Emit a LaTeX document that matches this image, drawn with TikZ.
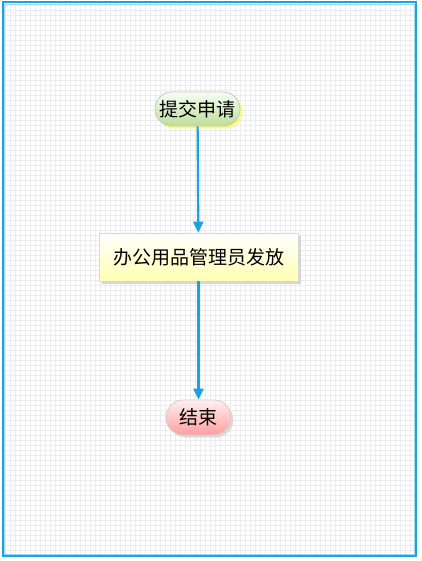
\documentclass[tikz,border=0pt]{standalone}
\usepackage{fontspec}
\newfontfamily\cjk{Noto Sans CJK SC}
\usetikzlibrary{shadows,arrows.meta}
\definecolor{frameblue}{HTML}{1FA3E0}
\definecolor{framelight}{HTML}{9ED8F2}
\definecolor{linkblue}{HTML}{1BA1E2}
\definecolor{gridgray}{HTML}{ECECF0}
\definecolor{startlow}{HTML}{BEDD9A}
\tikzset{
  basebox/.style={draw=#1, line width=0.8pt, font=\cjk\fontsize{19}{22}\selectfont, text=black, inner sep=0pt},
  startbox/.style={basebox=green!10!gray!45, minimum width=85pt, minimum height=34pt, rounded corners=17pt,
    top color=green!4!white, bottom color=startlow,
    drop shadow={shadow xshift=2.5pt, shadow yshift=-2.5pt, fill=yellow!55!white, opacity=0.9}},
  taskbox/.style={basebox=gray!30, minimum width=199pt, minimum height=48pt,
    top color=white, bottom color=yellow!30!white,
    drop shadow={shadow xshift=2.5pt, shadow yshift=-2.5pt, fill=gray!35, opacity=0.9}},
  endbox/.style={basebox=red!15!gray!35, minimum width=65pt, minimum height=35pt, rounded corners=17.5pt,
    top color=red!6!white, bottom color=red!38!white,
    drop shadow={shadow xshift=2.5pt, shadow yshift=-2.5pt, fill=gray!30, opacity=0.9}},
  link/.style={draw=linkblue, line width=2.2pt, -{Triangle[length=11pt,width=10pt]}},
}
\begin{document}
\begin{tikzpicture}[x=1pt,y=-1pt]
  \useasboundingbox (0,0) rectangle (421,561);
  \fill[white] (0,0) rectangle (421,561);
  % background grid
  \draw[gridgray, line width=0.4pt, step=5pt] (3,3) grid (415,555);
  % frame
  \draw[framelight, line width=1pt] (4.5,4.5) rectangle (414,554);
  \draw[frameblue, line width=2pt] (2.5,2.5) rectangle (416,556);
  % flow
  \node[startbox] (start) at (197.5,109) {提交申请};
  \node[taskbox] (issue) at (198.5,257) {办公用品管理员发放};
  \node[endbox] (finish) at (198.5,417.5) {结束};
  \draw[link] (start) -- (issue);
  \draw[link] (issue) -- (finish);
\end{tikzpicture}
\end{document}
